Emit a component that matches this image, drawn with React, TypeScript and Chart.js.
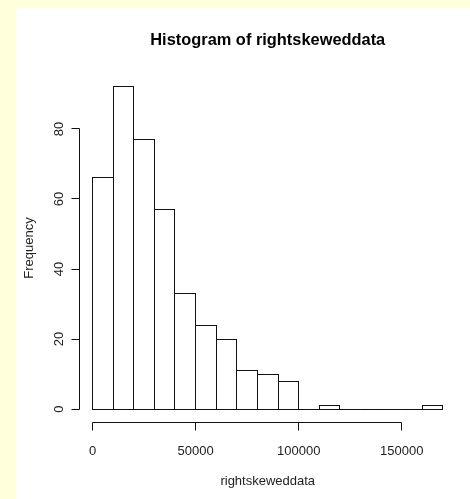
import React, { useEffect, useRef } from "react";
import { Chart, registerables } from "chart.js";

Chart.register(...registerables);

// ---- data ----
const binStarts = [0, 10000, 20000, 30000, 40000, 50000, 60000, 70000, 80000, 90000, 100000, 110000, 120000, 130000, 140000, 150000, 160000];
const binWidth = 10000;
const counts = [66, 92, 77, 57, 33, 24, 20, 11, 10, 8, 0, 1, 0, 0, 0, 0, 1];
const xTicks = [0, 50000, 100000, 150000];
const yTicks = [0, 20, 40, 60, 80];
const titleText = "Histogram of rightskeweddata";
const xLabel = "rightskeweddata";
const yLabel = "Frequency";

// R-style 4% axis extension
const xLo = binStarts[0];
const xHi = binStarts[binStarts.length - 1] + binWidth;
const yHi = Math.max(...counts);
const xMin = xLo - (xHi - xLo) * 0.04;
const xMax = xHi + (xHi - xLo) * 0.04;
const yMin = -yHi * 0.04;
const yMax = yHi * 1.04;

const FONT = '"Liberation Sans", Arial, Helvetica, sans-serif';

const bgPlugin = {
  id: "bgPlugin",
  beforeDraw(chart: any) {
    const { ctx, width, height } = chart;
    ctx.save();
    ctx.fillStyle = "#FFFFDC";
    ctx.fillRect(0, 0, width, height);
    ctx.fillStyle = "#FFFFFF";
    ctx.fillRect(16, 7, width - 16, height - 7);
    ctx.restore();
  },
};

const histPlugin = {
  id: "histPlugin",
  afterDatasetsDraw(chart: any) {
    const { ctx } = chart;
    const meta = chart.getDatasetMeta(0);
    ctx.save();
    ctx.strokeStyle = "#111";
    ctx.lineWidth = 1;
    meta.data.forEach((bar: any) => {
      const { x, y, base, width } = bar.getProps(["x", "y", "base", "width"], true);
      const l = Math.floor(x - width / 2) + 0.5;
      const r = Math.floor(x + width / 2) + 0.5;
      const t = Math.floor(y) + 0.5;
      const b = Math.floor(base) + 0.5;
      ctx.strokeRect(l, t, r - l, b - t);
    });
    ctx.restore();
  },
  afterDraw(chart: any) {
    const { ctx, chartArea } = chart;
    const xs = chart.scales.x;
    const ys = chart.scales.y;
    ctx.save();
    ctx.strokeStyle = "#111";
    ctx.lineWidth = 1;
    ctx.fillStyle = "#222";

    // x axis
    const axY = Math.round(chartArea.bottom) + 0.5;
    const x0 = Math.floor(xs.getPixelForValue(xTicks[0])) + 0.5;
    const x1 = Math.floor(xs.getPixelForValue(xTicks[xTicks.length - 1])) + 0.5;
    ctx.beginPath();
    ctx.moveTo(x0, axY);
    ctx.lineTo(x1, axY);
    xTicks.forEach((v) => {
      const px = Math.floor(xs.getPixelForValue(v)) + 0.5;
      ctx.moveTo(px, axY);
      ctx.lineTo(px, axY + 8);
    });
    ctx.stroke();
    ctx.font = `13px ${FONT}`;
    ctx.textAlign = "center";
    ctx.textBaseline = "alphabetic";
    xTicks.forEach((v) => {
      ctx.fillText(String(v), xs.getPixelForValue(v), 455);
    });

    // y axis
    const axX = Math.round(chartArea.left) + 0.5;
    const y0 = Math.floor(ys.getPixelForValue(yTicks[0])) + 0.5;
    const y1 = Math.floor(ys.getPixelForValue(yTicks[yTicks.length - 1])) + 0.5;
    ctx.beginPath();
    ctx.moveTo(axX, y0);
    ctx.lineTo(axX, y1);
    yTicks.forEach((v) => {
      const py = Math.floor(ys.getPixelForValue(v)) + 0.5;
      ctx.moveTo(axX, py);
      ctx.lineTo(axX - 8, py);
    });
    ctx.stroke();
    yTicks.forEach((v) => {
      ctx.save();
      ctx.translate(63, ys.getPixelForValue(v));
      ctx.rotate(-Math.PI / 2);
      ctx.fillText(String(v), 0, 0);
      ctx.restore();
    });

    const cx = (chartArea.left + chartArea.right) / 2;
    const cy = (chartArea.top + chartArea.bottom) / 2;

    // axis titles
    ctx.fillText(xLabel, cx, 485);
    ctx.save();
    ctx.translate(33, cy);
    ctx.rotate(-Math.PI / 2);
    ctx.fillText(yLabel, 0, 0);
    ctx.restore();

    // main title
    ctx.fillStyle = "#000";
    ctx.font = `bold 16.4px ${FONT}`;
    ctx.fillText(titleText, cx, 45);
    ctx.restore();
  },
};

export default function App() {
  const ref = useRef<HTMLCanvasElement | null>(null);
  useEffect(() => {
    if (!ref.current) return;
    const chart = new Chart(ref.current, {
      type: "bar",
      data: {
        datasets: [
          {
            data: binStarts.map((s, i) => ({ x: s + binWidth / 2, y: counts[i] })),
            backgroundColor: "rgba(0,0,0,0)",
            borderWidth: 0,
            barPercentage: 1,
            categoryPercentage: 1,
          },
        ],
      },
      options: {
        responsive: false,
        animation: false,
        devicePixelRatio: 1,
        layout: { padding: { left: 78.5, right: 13, top: 74, bottom: 77 } },
        scales: {
          x: { type: "linear", min: xMin, max: xMax, display: false, offset: false },
          y: { type: "linear", min: yMin, max: yMax, display: false },
        },
        plugins: {
          legend: { display: false },
          tooltip: { enabled: false },
          title: { display: false },
        },
      },
      plugins: [bgPlugin, histPlugin],
    } as any);
    return () => chart.destroy();
  }, []);
  return (
    <div style={{ position: "fixed", left: 0, top: 0, width: 470, height: 499 }}>
      <canvas ref={ref} width={470} height={499} style={{ display: "block" }} />
    </div>
  );
}
